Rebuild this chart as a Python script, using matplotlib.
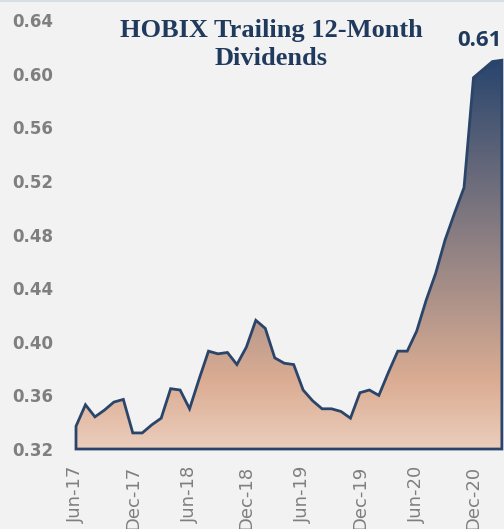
import numpy as np
import matplotlib.pyplot as plt
from matplotlib.colors import LinearSegmentedColormap
from matplotlib.patches import Polygon
from matplotlib.lines import Line2D

# monthly trailing 12-month dividends, Jun-17 .. Mar-21
dividends = [
    0.337, 0.353, 0.344, 0.349, 0.355, 0.357, 0.332, 0.332, 0.338, 0.343,
    0.365, 0.364, 0.350, 0.372, 0.393, 0.391, 0.392, 0.383, 0.396, 0.416,
    0.410, 0.388, 0.384, 0.383, 0.364, 0.356, 0.350, 0.350, 0.348, 0.343,
    0.362, 0.364, 0.360, 0.377, 0.393, 0.393, 0.408, 0.431, 0.451, 0.476,
    0.496, 0.515, 0.597, 0.603, 0.609, 0.610,
]
tick_labels = ['Jun-17', 'Dec-17', 'Jun-18', 'Dec-18',
               'Jun-19', 'Dec-19', 'Jun-20', 'Dec-20']
y_ticks = [0.32, 0.36, 0.40, 0.44, 0.48, 0.52, 0.56, 0.60, 0.64]
last_label = '0.61'

navy = '#203a5e'
line_col = '#2a4569'
bg = '#f2f2f2'

x = np.arange(len(dividends))
y = np.array(dividends)
ymin, ymax = 0.32, 0.64

fig = plt.figure(figsize=(5.04, 5.29), dpi=100, facecolor=bg)
ax = fig.add_axes([0.1508, 0.1512, 0.845, 0.811])
ax.set_facecolor(bg)

# gradient fill clipped to the area under the line
cmap = LinearSegmentedColormap.from_list(
    'grad', [(0.0, '#ebcdbc'), (0.17, '#dbad93'), (1.0, '#29456d')])
top = y.max()
grad = np.linspace(0, 1, 300).reshape(-1, 1)
img = ax.imshow(grad, cmap=cmap, origin='lower', aspect='auto',
                extent=[x[0], x[-1], ymin, top], zorder=1)
verts = np.column_stack([np.r_[x[0], x, x[-1]], np.r_[ymin, y, ymin]])
poly = Polygon(verts, closed=True, facecolor='none', edgecolor=line_col,
               linewidth=2, joinstyle='miter', zorder=3, clip_on=False)
ax.add_patch(poly)
img.set_clip_path(poly)

ax.set_xlim(x[0], x[-1])
ax.set_ylim(ymin, ymax)

ax.set_yticks(y_ticks)
ax.set_yticklabels([f'{t:.2f}' for t in y_ticks], fontsize=12,
                   fontweight='bold', color='#7f7f7f')
ax.set_xticks(x[::6])
ax.set_xticklabels(tick_labels, rotation=90, fontsize=13, color='#7f7f7f')
ax.tick_params(axis='y', length=0, pad=16.5)
ax.tick_params(axis='x', length=0, pad=12)
for s in ax.spines.values():
    s.set_visible(False)

# title
fig.text(0.5387, 1 - 37 / 529, 'HOBIX Trailing 12-Month', ha='center',
         va='baseline', fontsize=19, fontweight='bold',
         family='Liberation Serif', color=navy)
fig.text(0.5387, 1 - 65 / 529, 'Dividends', ha='center', va='baseline',
         fontsize=19, fontweight='bold', family='Liberation Serif', color=navy)

# last value label
ax.annotate(last_label, xy=(x[-1], y[-1]), xytext=(0, 10),
            textcoords='offset points', ha='right', va='baseline',
            fontsize=16, fontweight='bold', family='Open Sans', color=navy)

# thin border line at the top of the picture
fig.add_artist(Line2D([0, 1], [0.998, 0.998], color='#d9dee6', linewidth=1.5))

plt.savefig('out.png', dpi=100, facecolor=bg)
